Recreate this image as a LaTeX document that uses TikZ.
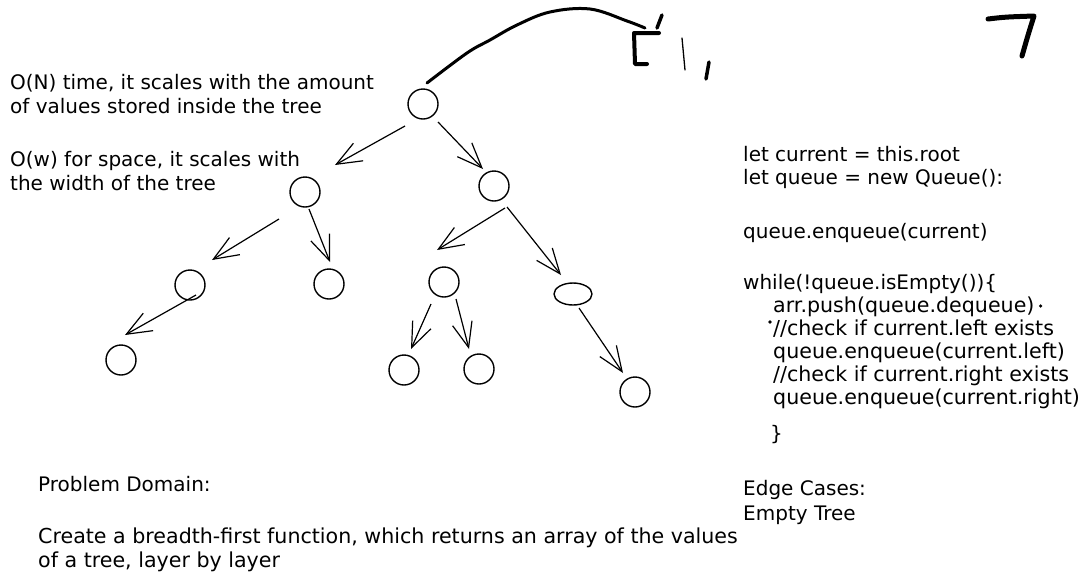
\documentclass[tikz,border=0pt]{standalone}
\usepackage{fontspec}
\setmainfont{DejaVu Sans}
\usetikzlibrary{arrows.meta,shapes.geometric}
\begin{document}
\begin{tikzpicture}[x=1pt,y=-1pt,
  nd/.style={circle,draw,line width=1.4pt,minimum size=30pt,inner sep=0pt},
  edge/.style={line width=1.2pt,-{Straight Barb[length=25pt,width=20pt,line width=1.2pt]}},
  txt/.style={anchor=base west,inner sep=0pt,font=\fontsize{20pt}{24pt}\selectfont},
  ink/.style={line width=3pt,line cap=round,line join=round}
]
\fill[white] (0,0) rectangle (1087,582);
\useasboundingbox (0,0) rectangle (1087,582);

% tree nodes
\node[nd] (root) at (423,104) {};
\node[nd] (L) at (305,192) {};
\node[nd] (R) at (494,186) {};
\node[nd] (LL) at (190,285) {};
\node[nd] (LR) at (329,284) {};
\node[nd] (LLL) at (121,360) {};
\node[nd] (RL) at (444,282) {};
\node[nd,ellipse,minimum width=38pt,minimum height=22pt] (RR) at (573,294) {};
\node[nd] (RLL) at (404,370) {};
\node[nd] (RLR) at (479,369) {};
\node[nd] (RRR) at (635,392) {};

% edges
\draw[edge] ([shift={(-18,22)}]root.center) -- ([shift={(30,-27)}]L.center);
\draw[edge] ([shift={(15,18)}]root.center) -- ([shift={(-11,-17)}]R.center);
\draw[edge] ([shift={(-26,27)}]L.center) -- ([shift={(22,-25)}]LL.center);
\draw[edge] ([shift={(4,17)}]L.center) -- ([shift={(1,-22)}]LR.center);
\draw[edge] ([shift={(6,10)}]LL.center) -- ([shift={(4,-25)}]LLL.center);
\draw[edge] ([shift={(11,22)}]R.center) -- ([shift={(-7,-32)}]RL.center);
\draw[edge] ([shift={(13,21)}]R.center) -- ([shift={(-12,-19)}]RR.center);
\draw[edge] ([shift={(-13,22)}]RL.center) -- ([shift={(7,-21)}]RLL.center);
\draw[edge] ([shift={(12,17)}]RL.center) -- ([shift={(-10,-20)}]RLR.center);
\draw[edge] ([shift={(6,14)}]RR.center) -- ([shift={(-12,-19)}]RRR.center);

% freehand marks
\coordinate (cs) at ([shift={(4,-21)}]root.center);
\coordinate (ce) at (645,28);
\draw[ink] plot[smooth,tension=0.6] coordinates {(cs) (467,53) (490,40) (517,25) (550,12) (590,9) (627,21) (ce)};
\draw[ink,line width=4pt] (659,33) -- (634,33) -- (635,64) -- (647,64);
\draw[ink,line width=3.5pt] (662,15) -- (657,28);
\draw[line width=1.3pt,line cap=round] (682,38) -- (685,70);
\draw[ink,line width=3.5pt] (709,62) -- (706,79);
\draw[ink,line width=5pt] (988,19) .. controls (1005,17) .. (1034,16) .. controls (1028,35) .. (1022,56);

% left notes
\node[txt] (t1) at (10,89) {O(N) time, it scales with the amount};
\node[txt] (t2) at (10,113) {of values stored inside the tree};
\node[txt] (t3) at (10,166) {O(w) for space, it scales with};
\node[txt] (t4) at (10,190) {the width of the tree};

% code
\node[txt] (c1) at (743,161) {let current = this.root};
\node[txt] (c2) at (743,184) {let queue = new Queue():};
\node[txt] (c3) at (743,238) {queue.enqueue(current)};
\node[txt] (c4) at (743,289) {while(!queue.isEmpty())\{};
\node[txt,font=\fontsize{20.6pt}{24pt}\selectfont] (c5) at (773,312) {arr.push(queue.dequeue)};
\node[txt,font=\fontsize{20.6pt}{24pt}\selectfont] (c6) at (773,335) {//check if current.left exists};
\node[txt,font=\fontsize{20.6pt}{24pt}\selectfont] (c7) at (773,358) {queue.enqueue(current.left)};
\node[txt,font=\fontsize{20.6pt}{24pt}\selectfont] (c8) at (773,381) {//check if current.right exists};
\node[txt,font=\fontsize{20.6pt}{24pt}\selectfont] (c9) at (773,404) {queue.enqueue(current.right)};
\node[txt] (c10) at (770,440) {\}};
\fill ([shift={(6,-6)}]c5.base east) circle (1.8);
\fill (770,322) circle (1.8);

% bottom
\node[txt] (p1) at (38,491) {Problem Domain:};
\node[txt,font=\fontsize{20.6pt}{24pt}\selectfont] (p2) at (38,543) {Create a breadth-first function, which returns an array of the values};
\node[txt,font=\fontsize{20.6pt}{24pt}\selectfont] (p3) at (38,567) {of a tree, layer by layer};
\node[txt] (e1) at (743,495) {Edge Cases:};
\node[txt] (e2) at (743,520) {Empty Tree};
\end{tikzpicture}
\end{document}
